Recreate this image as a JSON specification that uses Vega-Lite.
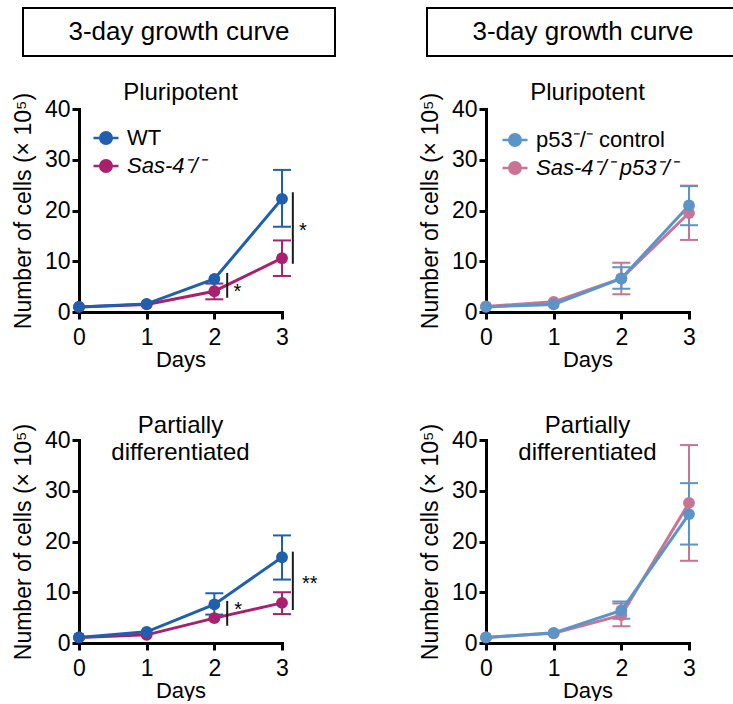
{
  "$schema": "https://vega.github.io/schema/vega-lite/v6.json",
  "background": "white",
  "padding": {"left": 12, "top": 7, "right": 0, "bottom": 0},
  "datasets": {
    "series": [
      {"panel": "TL", "group": "Sas-4⁻/⁻", "day": 0, "mean": 1.0, "lo": null, "hi": null},
      {"panel": "TL", "group": "Sas-4⁻/⁻", "day": 1, "mean": 1.5, "lo": null, "hi": null},
      {"panel": "TL", "group": "Sas-4⁻/⁻", "day": 2, "mean": 4.1, "lo": 2.5, "hi": 5.6},
      {"panel": "TL", "group": "Sas-4⁻/⁻", "day": 3, "mean": 10.6, "lo": 7.1, "hi": 14.1},
      {"panel": "TL", "group": "WT", "day": 0, "mean": 1.0, "lo": null, "hi": null},
      {"panel": "TL", "group": "WT", "day": 1, "mean": 1.6, "lo": null, "hi": null},
      {"panel": "TL", "group": "WT", "day": 2, "mean": 6.5, "lo": null, "hi": null},
      {"panel": "TL", "group": "WT", "day": 3, "mean": 22.3, "lo": 16.8, "hi": 28.0},
      {"panel": "TR", "group": "Sas-4⁻/⁻ p53⁻/⁻", "day": 0, "mean": 1.1, "lo": null, "hi": null},
      {"panel": "TR", "group": "Sas-4⁻/⁻ p53⁻/⁻", "day": 1, "mean": 2.0, "lo": null, "hi": null},
      {"panel": "TR", "group": "Sas-4⁻/⁻ p53⁻/⁻", "day": 2, "mean": 6.6, "lo": 3.5, "hi": 9.7},
      {"panel": "TR", "group": "Sas-4⁻/⁻ p53⁻/⁻", "day": 3, "mean": 19.5, "lo": 14.2, "hi": 24.9},
      {"panel": "TR", "group": "p53⁻/⁻ control", "day": 0, "mean": 1.0, "lo": null, "hi": null},
      {"panel": "TR", "group": "p53⁻/⁻ control", "day": 1, "mean": 1.5, "lo": null, "hi": null},
      {"panel": "TR", "group": "p53⁻/⁻ control", "day": 2, "mean": 6.6, "lo": 4.6, "hi": 8.8},
      {"panel": "TR", "group": "p53⁻/⁻ control", "day": 3, "mean": 21.0, "lo": 17.1, "hi": 24.8},
      {"panel": "BL", "group": "Sas-4⁻/⁻", "day": 0, "mean": 1.1, "lo": null, "hi": null},
      {"panel": "BL", "group": "Sas-4⁻/⁻", "day": 1, "mean": 1.6, "lo": null, "hi": null},
      {"panel": "BL", "group": "Sas-4⁻/⁻", "day": 2, "mean": 4.9, "lo": null, "hi": null},
      {"panel": "BL", "group": "Sas-4⁻/⁻", "day": 3, "mean": 7.9, "lo": 5.7, "hi": 10.0},
      {"panel": "BL", "group": "WT", "day": 0, "mean": 1.1, "lo": null, "hi": null},
      {"panel": "BL", "group": "WT", "day": 1, "mean": 2.2, "lo": null, "hi": null},
      {"panel": "BL", "group": "WT", "day": 2, "mean": 7.6, "lo": 5.6, "hi": 9.8},
      {"panel": "BL", "group": "WT", "day": 3, "mean": 16.9, "lo": 12.5, "hi": 21.2},
      {"panel": "BR", "group": "Sas-4⁻/⁻ p53⁻/⁻", "day": 0, "mean": 1.1, "lo": null, "hi": null},
      {"panel": "BR", "group": "Sas-4⁻/⁻ p53⁻/⁻", "day": 1, "mean": 1.9, "lo": null, "hi": null},
      {"panel": "BR", "group": "Sas-4⁻/⁻ p53⁻/⁻", "day": 2, "mean": 5.5, "lo": 3.3, "hi": 7.8},
      {"panel": "BR", "group": "Sas-4⁻/⁻ p53⁻/⁻", "day": 3, "mean": 27.6, "lo": 16.2, "hi": 39.0},
      {"panel": "BR", "group": "p53⁻/⁻ control", "day": 0, "mean": 1.1, "lo": null, "hi": null},
      {"panel": "BR", "group": "p53⁻/⁻ control", "day": 1, "mean": 2.0, "lo": null, "hi": null},
      {"panel": "BR", "group": "p53⁻/⁻ control", "day": 2, "mean": 6.4, "lo": 4.8, "hi": 8.2},
      {"panel": "BR", "group": "p53⁻/⁻ control", "day": 3, "mean": 25.4, "lo": 19.4, "hi": 31.5}
    ],
    "sig": [
      {"panel": "TL", "sx": 2.19, "sy1": 2.8, "sy2": 7.7, "tx": 2.34, "ty": 3.9, "label": "*"},
      {"panel": "TL", "sx": 3.16, "sy1": 9.5, "sy2": 23.6, "tx": 3.31, "ty": 15.9, "label": "*"},
      {"panel": "BL", "sx": 2.19, "sy1": 3.4, "sy2": 8.3, "tx": 2.35, "ty": 6.6, "label": "*"},
      {"panel": "BL", "sx": 3.16, "sy1": 6.5, "sy2": 18.0, "tx": 3.41, "ty": 11.6, "label": "**"}
    ],
    "headers": [{"t": "3-day growth curve"}]
  },
  "vconcat": [
    {
      "hconcat": [
        {
          "width": 312, "height": 48,
          "view": {"stroke": "black", "strokeWidth": 2},
          "data": {"name": "headers"},
          "mark": {"type": "text", "fontSize": 26, "align": "center", "baseline": "middle", "color": "black"},
          "encoding": {"text": {"field": "t", "type": "nominal"}}
        },
        {
          "width": 312, "height": 48,
          "view": {"stroke": "black", "strokeWidth": 2},
          "data": {"name": "headers"},
          "mark": {"type": "text", "fontSize": 26, "align": "center", "baseline": "middle", "color": "black"},
          "encoding": {"text": {"field": "t", "type": "nominal"}}
        }
      ],
      "spacing": 90
    },
    {
      "hconcat": [
        {
          "width": 1, "height": 1,
          "data": {"values": []},
          "mark": {"type": "point", "opacity": 0},
          "encoding": {}
        },
        {
          "hconcat": [
            {
              "vconcat": [
                {
                  "width": 203, "height": 203,
                  "title": {"text": "Pluripotent", "offset": -13},
                  "layer": [
                    {
                      "data": {"name": "series"},
                      "transform": [{"filter": "datum.panel === 'TL'"}],
                      "encoding": {
                        "x": {"field": "day", "type": "quantitative", "title": "Days", "scale": {"domain": [0, 3], "nice": false}, "axis": {"values": [0, 1, 2, 3], "format": "d"}},
                        "color": {"field": "group", "type": "nominal", "scale": {"domain": ["WT", "Sas-4⁻/⁻"], "range": ["#1f5fad", "#a8206e"]},
                          "legend": {"orient": "none", "legendX": 13, "legendY": 15, "padding": 0, "title": null, "symbolType": "M-1,0L1,0M-0.46,0A0.46,0.46 0 1,1 0.46,0A0.46,0.46 0 1,1 -0.46,0Z", "symbolSize": 625, "symbolStrokeWidth": 2.5, "symbolOpacity": 1, "labelFontSize": 22, "labelColor": "black", "labelOffset": 7, "rowPadding": 3,
                            "encode": {
                              "symbols": {"update": {"fill": {"signal": "datum.value === 'WT' ? '#1f5fad' : datum.value === 'Sas-4⁻/⁻' ? '#a8206e' : datum.value === 'p53⁻/⁻ control' ? '#5b95c8' : '#c97493'"}, "stroke": {"signal": "datum.value === 'WT' ? '#1f5fad' : datum.value === 'Sas-4⁻/⁻' ? '#a8206e' : datum.value === 'p53⁻/⁻ control' ? '#5b95c8' : '#c97493'"}}},
                              "labels": {"update": {"fontStyle": [{"test": "datum.label === 'WT' || datum.label === 'p53⁻/⁻ control'", "value": "normal"}, {"value": "italic"}]}}
                            }}}
                      },
                      "layer": [
                        {"mark": {"type": "rule", "strokeWidth": 2}, "encoding": {"y": {"field": "lo", "type": "quantitative", "title": "Number of cells (× 10⁵)", "scale": {"domain": [0, 40], "nice": false}, "axis": {"values": [0, 10, 20, 30, 40], "format": "d"}}, "y2": {"field": "hi"}}},
                        {"mark": {"type": "tick", "orient": "horizontal", "size": 18, "thickness": 2, "opacity": 1}, "encoding": {"y": {"field": "lo", "type": "quantitative", "title": "Number of cells (× 10⁵)"}}},
                        {"mark": {"type": "tick", "orient": "horizontal", "size": 18, "thickness": 2, "opacity": 1}, "encoding": {"y": {"field": "hi", "type": "quantitative", "title": "Number of cells (× 10⁵)"}}},
                        {"mark": {"type": "line", "strokeWidth": 3}, "encoding": {"y": {"field": "mean", "type": "quantitative", "title": "Number of cells (× 10⁵)"}}},
                        {"mark": {"type": "point", "filled": true, "size": 140, "opacity": 1}, "encoding": {"y": {"field": "mean", "type": "quantitative", "title": "Number of cells (× 10⁵)"}}}
                      ]
                    },
                    {
                      "data": {"name": "sig"},
                      "transform": [{"filter": "datum.panel === 'TL'"}],
                      "layer": [
                        {"mark": {"type": "rule", "strokeWidth": 2, "color": "#1a1a1a"}, "encoding": {"x": {"field": "sx", "type": "quantitative", "title": "Days"}, "y": {"field": "sy1", "type": "quantitative", "title": "Number of cells (× 10⁵)"}, "y2": {"field": "sy2"}}},
                        {"mark": {"type": "text", "fontSize": 20, "align": "center", "baseline": "middle", "color": "black"}, "encoding": {"x": {"field": "tx", "type": "quantitative", "title": "Days"}, "y": {"field": "ty", "type": "quantitative", "title": "Number of cells (× 10⁵)"}, "text": {"field": "label", "type": "nominal"}}}
                      ]
                    }
                  ]
                },
                {
                  "width": 203, "height": 203,
                  "title": {"text": ["Partially", "differentiated"], "offset": -42, "lineHeight": 27},
                  "layer": [
                    {
                      "data": {"name": "series"},
                      "transform": [{"filter": "datum.panel === 'BL'"}],
                      "encoding": {
                        "x": {"field": "day", "type": "quantitative", "title": "Days", "scale": {"domain": [0, 3], "nice": false}, "axis": {"values": [0, 1, 2, 3], "format": "d"}},
                        "color": {"field": "group", "type": "nominal", "scale": {"domain": ["WT", "Sas-4⁻/⁻"], "range": ["#1f5fad", "#a8206e"]}, "legend": null}
                      },
                      "layer": [
                        {"mark": {"type": "rule", "strokeWidth": 2}, "encoding": {"y": {"field": "lo", "type": "quantitative", "title": "Number of cells (× 10⁵)", "scale": {"domain": [0, 40], "nice": false}, "axis": {"values": [0, 10, 20, 30, 40], "format": "d"}}, "y2": {"field": "hi"}}},
                        {"mark": {"type": "tick", "orient": "horizontal", "size": 18, "thickness": 2, "opacity": 1}, "encoding": {"y": {"field": "lo", "type": "quantitative", "title": "Number of cells (× 10⁵)"}}},
                        {"mark": {"type": "tick", "orient": "horizontal", "size": 18, "thickness": 2, "opacity": 1}, "encoding": {"y": {"field": "hi", "type": "quantitative", "title": "Number of cells (× 10⁵)"}}},
                        {"mark": {"type": "line", "strokeWidth": 3}, "encoding": {"y": {"field": "mean", "type": "quantitative", "title": "Number of cells (× 10⁵)"}}},
                        {"mark": {"type": "point", "filled": true, "size": 140, "opacity": 1}, "encoding": {"y": {"field": "mean", "type": "quantitative", "title": "Number of cells (× 10⁵)"}}}
                      ]
                    },
                    {
                      "data": {"name": "sig"},
                      "transform": [{"filter": "datum.panel === 'BL'"}],
                      "layer": [
                        {"mark": {"type": "rule", "strokeWidth": 2, "color": "#1a1a1a"}, "encoding": {"x": {"field": "sx", "type": "quantitative", "title": "Days"}, "y": {"field": "sy1", "type": "quantitative", "title": "Number of cells (× 10⁵)"}, "y2": {"field": "sy2"}}},
                        {"mark": {"type": "text", "fontSize": 20, "align": "center", "baseline": "middle", "color": "black"}, "encoding": {"x": {"field": "tx", "type": "quantitative", "title": "Days"}, "y": {"field": "ty", "type": "quantitative", "title": "Number of cells (× 10⁵)"}, "text": {"field": "label", "type": "nominal"}}}
                      ]
                    }
                  ]
                }
              ],
              "spacing": 44,
              "resolve": {"scale": {"color": "independent"}, "legend": {"color": "independent"}}
            },
            {
              "vconcat": [
                {
                  "width": 203, "height": 203,
                  "title": {"text": "Pluripotent", "offset": -13},
                  "layer": [
                    {
                      "data": {"name": "series"},
                      "transform": [{"filter": "datum.panel === 'TR'"}],
                      "encoding": {
                        "x": {"field": "day", "type": "quantitative", "title": "Days", "scale": {"domain": [0, 3], "nice": false}, "axis": {"values": [0, 1, 2, 3], "format": "d"}},
                        "color": {"field": "group", "type": "nominal", "scale": {"domain": ["p53⁻/⁻ control", "Sas-4⁻/⁻ p53⁻/⁻"], "range": ["#5b95c8", "#c97493"]},
                          "legend": {"orient": "none", "legendX": 15, "legendY": 17, "padding": 0, "title": null, "symbolType": "M-1,0L1,0M-0.46,0A0.46,0.46 0 1,1 0.46,0A0.46,0.46 0 1,1 -0.46,0Z", "symbolSize": 625, "symbolStrokeWidth": 2.5, "symbolOpacity": 1, "labelFontSize": 22, "labelColor": "black", "labelOffset": 7, "rowPadding": 3,
                            "encode": {
                              "symbols": {"update": {"fill": {"signal": "datum.value === 'WT' ? '#1f5fad' : datum.value === 'Sas-4⁻/⁻' ? '#a8206e' : datum.value === 'p53⁻/⁻ control' ? '#5b95c8' : '#c97493'"}, "stroke": {"signal": "datum.value === 'WT' ? '#1f5fad' : datum.value === 'Sas-4⁻/⁻' ? '#a8206e' : datum.value === 'p53⁻/⁻ control' ? '#5b95c8' : '#c97493'"}}},
                              "labels": {"update": {"fontStyle": [{"test": "datum.label === 'WT' || datum.label === 'p53⁻/⁻ control'", "value": "normal"}, {"value": "italic"}]}}
                            }}}
                      },
                      "layer": [
                        {"mark": {"type": "rule", "strokeWidth": 2}, "encoding": {"y": {"field": "lo", "type": "quantitative", "title": "Number of cells (× 10⁵)", "scale": {"domain": [0, 40], "nice": false}, "axis": {"values": [0, 10, 20, 30, 40], "format": "d"}}, "y2": {"field": "hi"}}},
                        {"mark": {"type": "tick", "orient": "horizontal", "size": 18, "thickness": 2, "opacity": 1}, "encoding": {"y": {"field": "lo", "type": "quantitative", "title": "Number of cells (× 10⁵)"}}},
                        {"mark": {"type": "tick", "orient": "horizontal", "size": 18, "thickness": 2, "opacity": 1}, "encoding": {"y": {"field": "hi", "type": "quantitative", "title": "Number of cells (× 10⁵)"}}},
                        {"mark": {"type": "line", "strokeWidth": 3}, "encoding": {"y": {"field": "mean", "type": "quantitative", "title": "Number of cells (× 10⁵)"}}},
                        {"mark": {"type": "point", "filled": true, "size": 140, "opacity": 1}, "encoding": {"y": {"field": "mean", "type": "quantitative", "title": "Number of cells (× 10⁵)"}}}
                      ]
                    }
                  ]
                },
                {
                  "width": 203, "height": 203,
                  "title": {"text": ["Partially", "differentiated"], "offset": -42, "lineHeight": 27},
                  "layer": [
                    {
                      "data": {"name": "series"},
                      "transform": [{"filter": "datum.panel === 'BR'"}],
                      "encoding": {
                        "x": {"field": "day", "type": "quantitative", "title": "Days", "scale": {"domain": [0, 3], "nice": false}, "axis": {"values": [0, 1, 2, 3], "format": "d"}},
                        "color": {"field": "group", "type": "nominal", "scale": {"domain": ["p53⁻/⁻ control", "Sas-4⁻/⁻ p53⁻/⁻"], "range": ["#5b95c8", "#c97493"]}, "legend": null}
                      },
                      "layer": [
                        {"mark": {"type": "rule", "strokeWidth": 2}, "encoding": {"y": {"field": "lo", "type": "quantitative", "title": "Number of cells (× 10⁵)", "scale": {"domain": [0, 40], "nice": false}, "axis": {"values": [0, 10, 20, 30, 40], "format": "d"}}, "y2": {"field": "hi"}}},
                        {"mark": {"type": "tick", "orient": "horizontal", "size": 18, "thickness": 2, "opacity": 1}, "encoding": {"y": {"field": "lo", "type": "quantitative", "title": "Number of cells (× 10⁵)"}}},
                        {"mark": {"type": "tick", "orient": "horizontal", "size": 18, "thickness": 2, "opacity": 1}, "encoding": {"y": {"field": "hi", "type": "quantitative", "title": "Number of cells (× 10⁵)"}}},
                        {"mark": {"type": "line", "strokeWidth": 3}, "encoding": {"y": {"field": "mean", "type": "quantitative", "title": "Number of cells (× 10⁵)"}}},
                        {"mark": {"type": "point", "filled": true, "size": 140, "opacity": 1}, "encoding": {"y": {"field": "mean", "type": "quantitative", "title": "Number of cells (× 10⁵)"}}}
                      ]
                    }
                  ]
                }
              ],
              "spacing": 44,
              "resolve": {"scale": {"color": "independent"}, "legend": {"color": "independent"}}
            }
          ],
          "spacing": 101,
          "resolve": {"scale": {"color": "independent"}, "legend": {"color": "independent"}}
        }
      ],
      "spacing": -12,
      "resolve": {"scale": {"color": "independent"}, "legend": {"color": "independent"}}
    }
  ],
  "spacing": 24,
  "resolve": {"scale": {"color": "independent"}, "legend": {"color": "independent"}},
  "config": {
    "font": "Liberation Sans",
    "view": {"stroke": null},
    "title": {"fontSize": 24, "fontWeight": "normal", "color": "black", "frame": "group", "anchor": "middle", "baseline": "alphabetic", "font": "Liberation Sans"},
    "axis": {"grid": false, "domainColor": "black", "domainWidth": 3, "domainCap": "square", "tickColor": "black", "tickWidth": 3, "tickSize": 7, "labelColor": "black", "labelFontSize": 23, "labelFont": "Liberation Sans", "titleFont": "Liberation Sans", "titleFontWeight": "normal", "titleColor": "black", "labelPadding": 2, "labelFlush": false},
    "axisX": {"labelPadding": 7, "titlePadding": 0, "titleFontSize": 22},
    "axisY": {"titlePadding": 9, "titleFontSize": 23},
    "legend": {"labelFont": "Liberation Sans"}
  }
}
